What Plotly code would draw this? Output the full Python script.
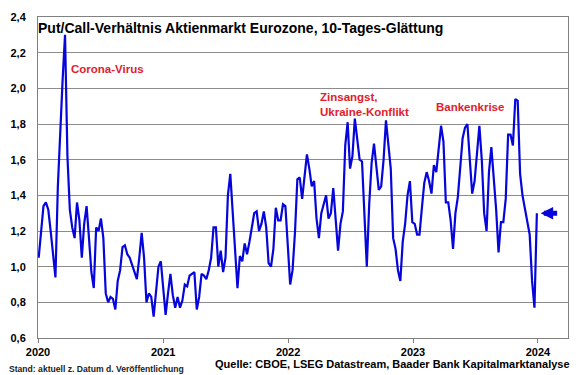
import pandas as pd
import plotly.graph_objects as go

# Weekly readings of the 10-day smoothed put/call ratio (Eurozone equity market)
put_call = [
    1.05, 1.22, 1.34, 1.36, 1.32, 1.20, 1.07, 0.94, 1.45, 1.77,
    2.05, 2.30, 1.62, 1.32, 1.22, 1.16, 1.36, 1.26, 1.05, 1.24,
    1.34, 1.16, 0.97, 0.88, 1.22, 1.20, 1.27, 1.16, 0.85, 0.80,
    0.83, 0.82, 0.76, 0.92, 0.98, 1.11, 1.12, 1.07, 1.05, 1.01,
    0.97, 0.93, 1.05, 1.19, 1.05, 0.80, 0.85, 0.83, 0.72, 0.88,
    1.00, 1.03, 0.86, 0.73, 0.85, 0.96, 0.84, 0.77, 0.83, 0.77,
    0.81, 0.90, 0.89, 0.95, 0.96, 0.97, 0.76, 0.83, 0.96, 0.95,
    0.93, 0.98, 1.05, 1.22, 1.22, 1.00, 1.09, 0.97, 1.05, 1.40,
    1.52, 1.32, 1.10, 0.88, 1.06, 1.03, 1.13, 1.07, 1.14, 1.22,
    1.30, 1.31, 1.20, 1.24, 1.31, 1.22, 1.02, 1.00, 1.10, 1.33,
    1.26, 1.26, 1.35, 1.34, 1.09, 0.90, 0.98, 1.19, 1.49, 1.50,
    1.38, 1.52, 1.63, 1.55, 1.45, 1.48, 1.27, 1.16, 1.30, 1.35,
    1.40, 1.27, 1.30, 1.44, 1.28, 1.09, 1.24, 1.31, 1.68, 1.81,
    1.55, 1.62, 1.83, 1.71, 1.60, 1.59, 1.25, 1.00, 1.35, 1.58,
    1.69, 1.57, 1.43, 1.45, 1.60, 1.82, 1.70, 1.55, 1.16, 1.10,
    0.98, 0.92, 1.14, 1.24, 1.40, 1.48, 1.25, 1.24, 1.18, 1.18,
    1.33, 1.47, 1.53, 1.48, 1.41, 1.57, 1.53, 1.68, 1.79, 1.70,
    1.36, 1.36, 1.26, 1.10, 1.30, 1.39, 1.58, 1.72, 1.78, 1.80,
    1.60, 1.41, 1.48, 1.62, 1.79, 1.60, 1.30, 1.20, 1.53, 1.67,
    1.50, 1.32, 1.08, 1.25, 1.25, 1.38, 1.74, 1.74, 1.68, 1.94,
    1.93, 1.52, 1.40, 1.33, 1.26, 1.18, 0.92, 0.77, 1.30,
]
start_date = "2020-01-03"
dates = pd.date_range(start_date, periods=len(put_call), freq="7D")

year_ticks = ["2020-01-01", "2021-01-01", "2022-01-01", "2023-01-01", "2024-01-01"]
year_labels = ["2020", "2021", "2022", "2023", "2024"]

title_text = "Put/Call-Verhältnis Aktienmarkt Eurozone, 10-Tages-Glättung"
events = [
    ("Corona-Virus", 0.059, 0.839),
    ("Zinsangst,<br>Ukraine-Konflikt", 0.528, 0.728),
    ("Bankenkrise", 0.747, 0.720),
]
source_text = "Quelle: CBOE, LSEG Datastream, Baader Bank Kapitalmarktanalyse"
stand_text = "Stand: aktuell z. Datum d. Veröffentlichung"
current_date = "2024-01-09"
current_value = 1.30

FONT = "Liberation Sans, Arial, sans-serif"
BLUE = "#0505DC"
RED = "#E2202C"
GRID = "#8C8C8C"

fig = go.Figure()
fig.add_trace(go.Scatter(
    x=dates, y=put_call, mode="lines",
    line=dict(color=BLUE, width=2.2), hoverinfo="skip",
))

annotations = [
    dict(text=title_text, xref="paper", yref="paper", x=-0.003, y=0.965,
         xanchor="left", yanchor="middle", showarrow=False,
         font=dict(family=FONT, size=14, color="black", weight="bold")),
    dict(text=source_text, xref="paper", yref="paper", x=1.008, y=-0.081,
         xanchor="right", yanchor="middle", showarrow=False,
         font=dict(family=FONT, size=11, color="black", weight="bold")),
    dict(text=stand_text, xref="paper", yref="paper", x=-0.058, y=-0.096,
         xanchor="left", yanchor="middle", showarrow=False,
         font=dict(family=FONT, size=8.6, color="#222222", weight="bold")),
    dict(text="", x=current_date, y=current_value, xref="x", yref="y",
         showarrow=True, ax=18, ay=0, arrowhead=2, arrowsize=0.5,
         arrowwidth=5, arrowcolor=BLUE, standoff=0),
]
for txt, ex, ey in events:
    annotations.append(dict(
        text=txt, xref="paper", yref="paper", x=ex, y=ey,
        xanchor="left", yanchor="middle", align="left", showarrow=False,
        font=dict(family=FONT, size=11.5, color=RED, weight="bold"),
    ))

fig.update_layout(
    width=580, height=375,
    margin=dict(l=30, r=11, t=11, b=37),
    paper_bgcolor="white", plot_bgcolor="white",
    separators=",.", showlegend=False,
    font=dict(family=FONT, color="black"),
    annotations=annotations,
    xaxis=dict(
        type="date", range=["2020-01-01", "2024-03-29"],
        tickvals=year_ticks, ticktext=year_labels,
        ticks="outside", ticklen=4, tickcolor="#808080",
        showline=True, linecolor="#808080", linewidth=1, mirror=True,
        showgrid=False, zeroline=False,
        tickfont=dict(family=FONT, size=11, color="black", weight="bold"),
    ),
    yaxis=dict(
        range=[0.6, 2.4], tick0=0.6, dtick=0.2, tickformat=".1f",
        showgrid=True, gridcolor=GRID, gridwidth=1,
        showline=True, linecolor="#808080", linewidth=1, mirror=True,
        ticks="", ticklabelstandoff=9, zeroline=False,
        tickfont=dict(family=FONT, size=11, color="black", weight="bold"),
    ),
)

fig.write_html(
    "out.html",
    config={"displayModeBar": False},
    post_script="document.body.style.margin='0px';document.body.style.padding='0px';",
)
